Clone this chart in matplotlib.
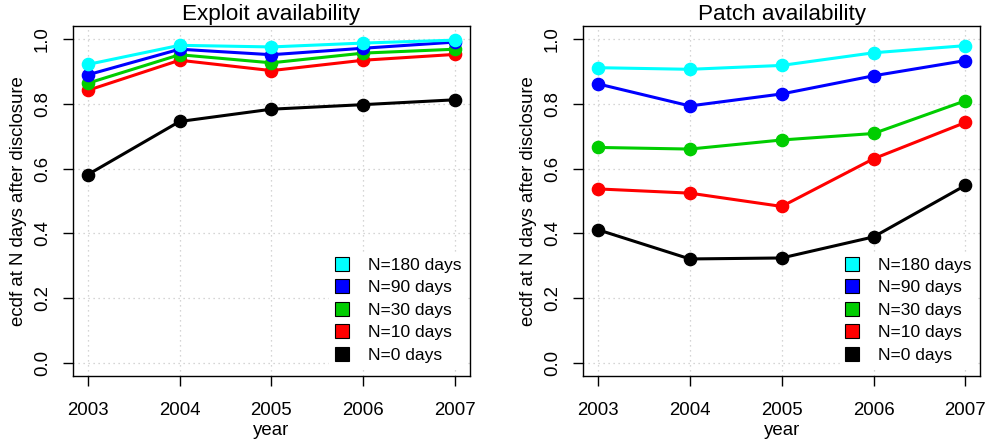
import matplotlib
matplotlib.use("Agg")
import matplotlib.pyplot as plt
from matplotlib.lines import Line2D

plt.rcParams["font.family"] = ["Liberation Sans", "DejaVu Sans"]

# years on the x axis
years = [2003, 2004, 2005, 2006, 2007]

# ecdf values
exploit_n0 = [0.581, 0.745, 0.783, 0.797, 0.812]
exploit_n10 = [0.841, 0.934, 0.902, 0.934, 0.952]
exploit_n30 = [0.863, 0.951, 0.926, 0.956, 0.968]
exploit_n90 = [0.889, 0.968, 0.951, 0.971, 0.990]
exploit_n180 = [0.921, 0.980, 0.975, 0.987, 0.996]

patch_n0 = [0.411, 0.321, 0.324, 0.389, 0.548]
patch_n10 = [0.537, 0.524, 0.483, 0.630, 0.742]
patch_n30 = [0.665, 0.660, 0.688, 0.708, 0.809]
patch_n90 = [0.861, 0.793, 0.830, 0.886, 0.933]
patch_n180 = [0.911, 0.906, 0.918, 0.957, 0.979]

series_labels = ["N=180 days", "N=90 days", "N=30 days", "N=10 days", "N=0 days"]
series_colors = ["#00FFFF", "#0000FF", "#00CD00", "#FF0000", "#000000"]

y_ticks = [0.0, 0.2, 0.4, 0.6, 0.8, 1.0]


def draw_panel(ax, title, series):
    # grid first, so the lines sit on top
    for yr in years:
        ax.axvline(yr, color="#c8c8c8", lw=0.9, ls=(0, (1, 3)), zorder=0)
    for yv in y_ticks:
        ax.axhline(yv, color="#c8c8c8", lw=0.9, ls=(0, (1, 3)), zorder=0)

    # draw lowest series first so the top ones overlap like in R
    for values, color in zip(series[::-1], series_colors[::-1]):
        ax.plot(years, values, color=color, lw=2.2, marker="o",
                markersize=8.8, zorder=3)

    ax.set_xlim(2002.84, 2007.16)
    ax.set_ylim(-0.04, 1.04)
    ax.set_xticks(years)
    ax.set_yticks(y_ticks)
    ax.set_yticklabels(["0.0", "0.2", "0.4", "0.6", "0.8", "1.0"],
                       rotation=90, va="center")
    ax.tick_params(axis="both", direction="out", length=7, width=1,
                   labelsize=13.4)
    ax.tick_params(axis="x", pad=12)
    ax.tick_params(axis="y", pad=9)
    for sp in ax.spines.values():
        sp.set_linewidth(1)

    ax.set_title(title, fontsize=16.2, pad=4)
    ax.set_xlabel("year", fontsize=13.4, labelpad=2)
    ax.set_ylabel("ecdf at N days after disclosure", fontsize=13.4,
                  labelpad=5)

    handles = [
        Line2D([], [], ls="none", marker="s", markersize=9.5,
               markerfacecolor=c, markeredgecolor="black",
               markeredgewidth=0.8)
        for c in series_colors
    ]
    leg = ax.legend(handles, series_labels, loc="lower right",
                    bbox_to_anchor=(1.0, 0.012), fontsize=12.5,
                    frameon=True, fancybox=False, framealpha=1,
                    edgecolor="white", handlelength=1.0,
                    handletextpad=1.0, labelspacing=0.43,
                    borderpad=0.2, borderaxespad=0.3)
    leg.set_zorder(5)


fig = plt.figure(figsize=(9.87, 4.46), dpi=100)
ax1 = fig.add_axes([0.074, 0.157, 0.402, 0.785])
ax2 = fig.add_axes([0.591, 0.157, 0.402, 0.785])

draw_panel(ax1, "Exploit availability",
           [exploit_n180, exploit_n90, exploit_n30, exploit_n10, exploit_n0])
draw_panel(ax2, "Patch availability",
           [patch_n180, patch_n90, patch_n30, patch_n10, patch_n0])

fig.savefig("out.png", dpi=100)
